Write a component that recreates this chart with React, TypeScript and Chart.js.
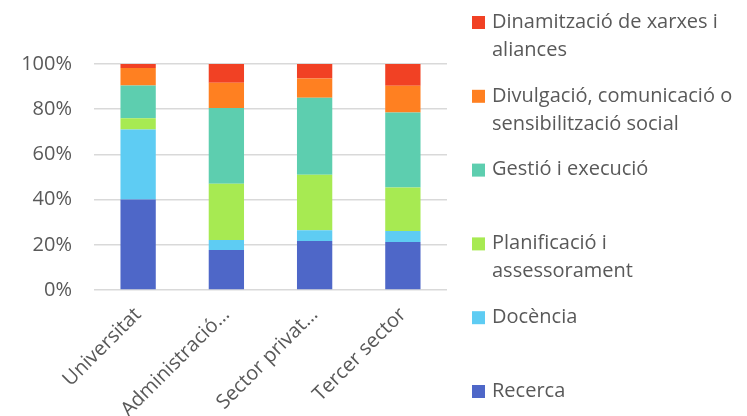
import React, { useEffect, useRef } from 'react';
import { Chart, registerables } from 'chart.js';

Chart.register(...registerables);

// ---- data ----
const categories = ['Universitat', 'Administració…', 'Sector privat…', 'Tercer sector'];
const seriesNames = [
  'Recerca',
  'Docència',
  'Planificació i assessorament',
  'Gestió i execució',
  'Divulgació, comunicació o sensibilització social',
  'Dinamització de xarxes i aliances',
];
const recerca = [40, 17.7, 21.7, 21.2];
const docencia = [31, 4.4, 4.7, 4.9];
const planificacio = [5, 24.9, 24.6, 19.2];
const gestio = [14.5, 33.5, 34.1, 33.2];
const divulgacio = [7.7, 11.2, 8.5, 11.9];
const dinamitzacio = [1.8, 8.3, 6.4, 9.6];
const yTickValues = [0, 20, 40, 60, 80, 100];
// legend text as wrapped in the reference (same order as seriesNames)
const legendLines = [
  ['Recerca'],
  ['Docència'],
  ['Planificació i', 'assessorament'],
  ['Gestió i execució'],
  ['Divulgació, comunicació o', 'sensibilització social'],
  ['Dinamització de xarxes i', 'aliances'],
];

const colors = ['#4E67C8', '#5ECCF3', '#A7EA52', '#5DCEAF', '#FF8021', '#F14124'];
const FONT = '"Open Sans", "DejaVu Sans", sans-serif';
const TEXT = '#595959';
const FS = 20;

const customLegend = {
  id: 'customLegend',
  afterDraw(chart: any) {
    const ctx = chart.ctx;
    const area = chart.chartArea;
    const x0 = area.right + 25;
    const firstY = 22;
    const step = 73.8;
    const lineH = 28;
    ctx.save();
    ctx.font = `${FS}px ${FONT}`;
    ctx.textBaseline = 'middle';
    ctx.textAlign = 'left';
    const n = legendLines.length;
    for (let k = 0; k < n; k++) {
      const i = n - 1 - k; // reversed order
      const y = firstY + k * step;
      ctx.fillStyle = colors[i];
      ctx.fillRect(x0, y - 6, 13, 13);
      ctx.fillStyle = TEXT;
      legendLines[i].forEach((line, j) => {
        ctx.fillText(line, x0 + 20, y + j * lineH);
      });
    }
    ctx.restore();
  },
};

export default function App() {
  const ref = useRef<HTMLCanvasElement | null>(null);
  useEffect(() => {
    document.body.style.margin = '0';
    const values = [recerca, docencia, planificacio, gestio, divulgacio, dinamitzacio];
    const chart = new Chart(ref.current as HTMLCanvasElement, {
      type: 'bar',
      data: {
        labels: categories,
        datasets: seriesNames.map((name, i) => ({
          label: name,
          data: values[i],
          backgroundColor: colors[i],
          borderWidth: 0,
          categoryPercentage: 1,
          barPercentage: 0.4,
        })),
      },
      options: {
        animation: false,
        responsive: true,
        maintainAspectRatio: false,
        layout: { padding: { top: 64, right: 300, left: 0, bottom: 0 } },
        plugins: {
          legend: { display: false },
          tooltip: { enabled: false },
        },
        scales: {
          x: {
            stacked: true,
            grid: { display: false },
            border: { display: false },
            afterFit(scale: any) {
              scale.height = 126;
            },
            ticks: {
              autoSkip: false,
              minRotation: 45,
              maxRotation: 45,
              padding: 5,
              color: TEXT,
              font: { family: FONT, size: FS },
            },
          },
          y: {
            stacked: true,
            min: 0,
            max: 100,
            afterFit(scale: any) {
              scale.width = 94;
            },
            afterBuildTicks(scale: any) {
              scale.ticks = yTickValues.map((v) => ({ value: v }));
            },
            grid: { color: '#D9D9D9', lineWidth: 1.5, drawTicks: false },
            border: { display: false },
            ticks: {
              padding: 22,
              color: TEXT,
              font: { family: FONT, size: FS },
              callback: (v: any) => `${v}%`,
            },
          },
        },
      },
      plugins: [customLegend],
    });
    return () => chart.destroy();
  }, []);
  return (
    <div style={{ width: 747, height: 416, position: 'relative' }}>
      <canvas ref={ref} />
    </div>
  );
}
